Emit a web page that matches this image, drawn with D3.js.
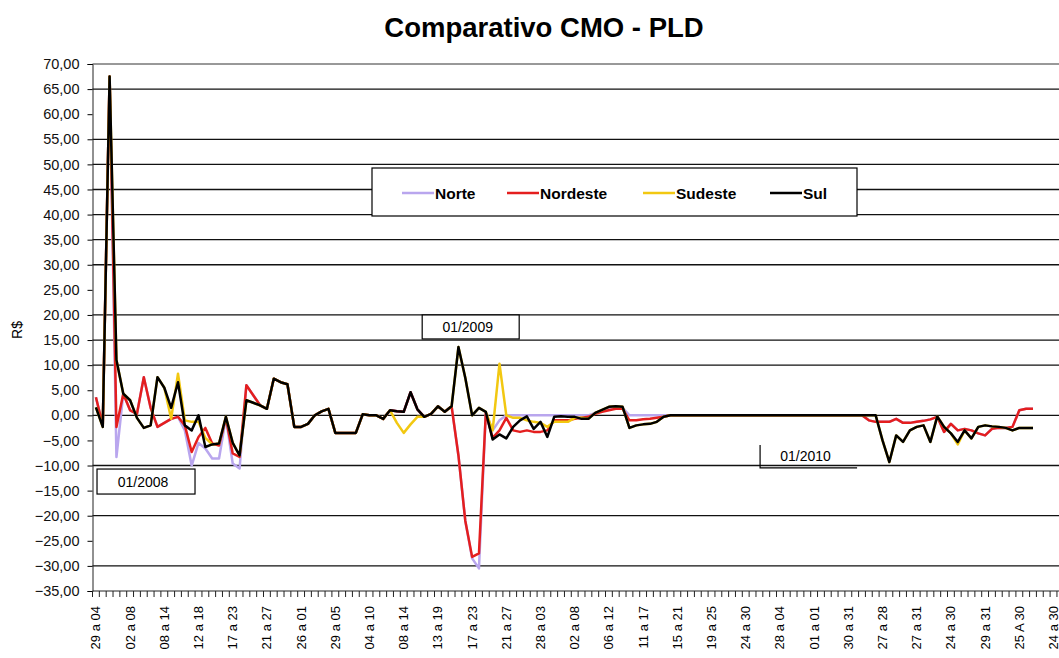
<!DOCTYPE html>
<html>
<head>
<meta charset="utf-8">
<script src="https://cdn.jsdelivr.net/npm/d3@7"></script>
<style>
  body { margin: 0; background: #fff; }
  text { font-family: Arial, "Liberation Sans", sans-serif; }
</style>
</head>
<body>
<div class="container"></div>
<script>
// week labels shown under the axis (one every 5 weeks)
var weekLabels = ["29 a 04","02 a 08","08 a 14","12 a 18","17 a 23","21 a 27","26 a 01","29 a 05","04 a 10",
  "08 a 14","13 a 19","17 a 23","21 a 27","28 a 03","02 a 08","06 a 12","11 a 17","15 a 21","19 a 25",
  "24 a 30","28 a 04","01 a 01","30 a 31","27 a 28","27 a 31","24 a 30","29 a 31","25 A 30","24 a 30"];
var nWeeks = 142;

// R$ differences CMO - PLD, weekly
var sul = [1.6,-2.3,67.5,11,4.3,3,-0.5,-2.5,-2,7.6,
  5.5,1.5,6.6,-2,-3,0,-6.3,-5.8,-5.6,-0.3,
  -5.5,-8,3,2.5,2,1.3,7.3,6.6,6.2,-2.3,
  -2.3,-1.7,0,0.8,1.3,-3.5,-3.5,-3.5,-3.5,0.2,
  0,0,-0.7,1,0.8,0.7,4.6,1.2,-0.3,0.3,
  1.8,0.7,1.8,13.6,7.5,0,1.5,0.7,-4.8,-3.8,
  -4.6,-2.3,-1,-0.2,-2.7,-1.3,-4.3,-0.3,-0.2,-0.3,
  -0.3,-0.7,-0.7,0.5,1.1,1.7,1.8,1.7,-2.5,-2,
  -1.8,-1.7,-1.3,-0.3,0,0,0,0,0,0,
  0,0,0,0,0,0,0,0,0,0,
  0,0,0,0,0,0,0,0,0,0,
  0,0,0,0,0,-5,-9.3,-4,-5.3,-3,
  -2.3,-2,-5.3,-0.2,-2.3,-3.6,-5.3,-3,-4.6,-2.3,
  -2,-2.2,-2.3,-2.5,-3,-2.5,-2.5,-2.5];

var nordeste = [3.6,-2,67.5,-2.3,4.3,1,0.3,7.6,1.5,-2.3,
  -1.5,-0.7,-0.3,-2,-7.3,-4.3,-2.5,-5.6,-6,-0.5,
  -7.6,-8.3,6,4,2,1.3,7.3,6.6,6.2,-2.3,
  -2.3,-1.7,0,0.8,1.3,-3.5,-3.5,-3.5,-3.5,0.2,
  0,0,-0.7,1,0.8,0.7,4.6,1.2,-0.3,0.3,
  1.8,0.7,1.8,-8,-21,-28.2,-27.5,0.5,-4.5,-3,
  -0.5,-3,-3.3,-3,-3.3,-3.3,-3,-1,-1,-1,
  -0.7,-0.5,-0.3,0.3,0.7,1,1.3,1.3,-1,-1,
  -0.8,-0.7,-0.5,-0.3,0,0,0,0,0,0,
  0,0,0,0,0,0,0,0,0,0,
  0,0,0,0,0,0,0,0,0,0,
  0,0,0,-1,-1.3,-1.3,-1.3,-0.7,-1.5,-1.5,
  -1.3,-1.1,-0.8,-0.3,-3.3,-1.7,-3,-2.7,-3,-3.6,
  -4,-2.7,-2.5,-2.5,-2.3,1,1.3,1.3];

var norte = [3.6,-2,67.5,-8.3,4.3,1,0.3,7.6,1.5,-2.3,
  -1.5,-0.7,-0.3,-3,-10,-5.5,-6.6,-8.6,-8.6,-0.5,
  -9.6,-10.6,6,4,2,1.3,7.3,6.6,6.2,-2.3,
  -2.3,-1.7,0,0.8,1.3,-3.5,-3.5,-3.5,-3.5,0.2,
  0,0,-0.7,1,0.8,0.7,4.6,1.2,-0.3,0.3,
  1.8,0.7,1.8,-8,-21,-28.5,-30.5,0.5,-3,-1,
  0,0,0,0,0,0,0,0,0,0,
  0,0,0,0.5,1,1.3,1.5,1.5,0,0,
  0,0,0,0,0,0,0,0,0,0,
  0,0,0,0,0,0,0,0,0,0,
  0,0,0,0,0,0,0,0,0,0,
  0,0,0,-1,-1.3,-1.3,-1.3,-0.7,-1.5,-1.5,
  -1.3,-1.1,-0.8,-0.3,-3.3,-1.7,-3,-2.7,-3,-3.6,
  -4,-2.7,-2.5,-2.5,-2.3,1,1.3,1.3];

var sudeste = [1.6,-2.3,67.5,11,4.3,3,-0.5,-2.5,-2,7.6,
  5.5,-0.7,8.3,-1,-1.3,-1.3,-4.5,-5.8,-5.6,-0.3,
  -5.5,-8,3,2.5,2,1.3,7.3,6.6,6.2,-2.3,
  -2.3,-1.7,0,0.8,1.3,-3.5,-3.5,-3.5,-3.5,0.2,
  0,0,-0.7,1,-1.5,-3.5,-1.8,-0.3,-0.3,0.3,
  1.8,0.7,1.8,13.6,7.5,0,1.5,0.7,-3,10.3,
  0,-0.5,-0.5,-1,-1.3,-1.5,-2.3,-1.3,-1.3,-1.3,
  -0.5,-0.5,-0.7,0.5,1.1,1.7,1.8,1.7,-2.5,-2,
  -1.8,-1.7,-1.3,-0.3,0,0,0,0,0,0,
  0,0,0,0,0,0,0,0,0,0,
  0,0,0,0,0,0,0,0,0,0,
  0,0,0,0,0,-5,-9.3,-4,-5.3,-3,
  -2.3,-2,-5.3,-0.2,-2.3,-3.6,-5.8,-3,-4.6,-2.3,
  -2,-2.2,-2.3,-2.5,-3,-2.5,-2.5,-2.5];

var seriesNames = ["Norte","Nordeste","Sudeste","Sul"];
var seriesColors = ["#b9a6ee","#e41e1e","#f2c811","#000000"];
var seriesValues = [norte, nordeste, sudeste, sul];

// y ticks every 5, but only some grid lines show in the original
var yTicks = d3.range(-35, 71, 5);
var gridValues = [65,55,50,45,40,35,30,20,15,10,0,-10,-20,-30];

// boxed year markers: left week, top value, size
var markers = [
  {label: "01/2008", week: 0.16, top: -10.7, w: 98, h: 25, box: "full"},
  {label: "01/2009", week: 47.7, top: 20, w: 97, h: 24, box: "full"},
  {label: "01/2010", week: 97.1, top: -5.9, w: 97, h: 23, box: "open"}
];

var w = 1059, h = 658;
var plotLeft = 92.5, plotTop = 64, plotBottom = 591;
var step = 6.84;

var svg = d3.select(".container").append("svg").attr("width", w).attr("height", h);

var x = d3.scaleBand().domain(d3.range(nWeeks)).range([plotLeft, plotLeft + nWeeks * step]).padding(0);
var xc = function(i){ return x(0) + x.bandwidth() / 2 + i * x.step(); };
var y = d3.scaleLinear().domain([-35, 70]).range([plotBottom, plotTop]);

var loc = d3.formatLocale({decimal: ",", thousands: ".", grouping: [3], currency: ["R$", ""]});
var fmt = loc.format(".2f");

// title
svg.append("text").attr("x", 544).attr("y", 37).attr("text-anchor", "middle")
  .style("font-size", "27.5px").style("font-weight", "bold").text("Comparativo CMO - PLD");

// grid
svg.append("g").selectAll("line").data(gridValues).enter().append("line")
  .attr("x1", plotLeft).attr("x2", w).attr("y1", function(d){ return y(d); }).attr("y2", function(d){ return y(d); })
  .attr("stroke", "#111").attr("stroke-width", 1.3);
svg.append("line").attr("x1", plotLeft).attr("x2", w).attr("y1", plotTop).attr("y2", plotTop)
  .attr("stroke", "#333").attr("stroke-width", 1);

// y axis
var yAxis = svg.append("g").attr("transform", "translate(" + plotLeft + ",0)")
  .call(d3.axisLeft(y).tickValues(yTicks).tickFormat(fmt).tickSize(5).tickPadding(8));
yAxis.select(".domain").attr("stroke", "#222");
yAxis.selectAll("text").style("font-size", "14.5px").style("font-family", "Arial, 'Liberation Sans', sans-serif").attr("fill", "#111");

svg.append("text").attr("transform", "translate(22,330) rotate(-90)").attr("text-anchor", "middle")
  .style("font-size", "14px").text("R$");

// x axis
svg.append("line").attr("x1", plotLeft).attr("x2", w).attr("y1", plotBottom).attr("y2", plotBottom).attr("stroke", "#222");
svg.append("g").selectAll("line").data(d3.range(nWeeks + 1)).enter().append("line")
  .attr("x1", function(d){ return plotLeft + d * x.step(); }).attr("x2", function(d){ return plotLeft + d * x.step(); })
  .attr("y1", plotBottom).attr("y2", plotBottom + 6).attr("stroke", "#222");
svg.append("g").selectAll("text").data(weekLabels).enter().append("text")
  .attr("transform", function(d, i){ return "translate(" + (xc(i * 5) + 4.5) + "," + (plotBottom + 15) + ") rotate(-90)"; })
  .attr("text-anchor", "end").style("font-size", "13px").text(function(d){ return d; });

// lines
var line = d3.line().x(function(d, i){ return xc(i); }).y(function(d){ return y(d); });
svg.append("g").selectAll("path").data(seriesValues).enter().append("path")
  .attr("d", function(d){ return line(d); })
  .attr("fill", "none").attr("stroke", function(d, i){ return seriesColors[i]; })
  .attr("stroke-width", 2.5).attr("stroke-linejoin", "round");

// year markers
markers.forEach(function(m){
  var mx = xc(m.week), my = y(m.top);
  var g = svg.append("g");
  if (m.box == "full") {
    g.append("rect").attr("x", mx).attr("y", my).attr("width", m.w).attr("height", m.h)
      .attr("fill", "#fff").attr("stroke", "#000").attr("stroke-width", 1.2);
  } else {
    g.append("path").attr("d", "M" + mx + "," + my + "V" + (my + m.h) + "H" + (mx + m.w))
      .attr("fill", "none").attr("stroke", "#000").attr("stroke-width", 1.2);
  }
  g.append("text").attr("x", mx + m.w / 2 - 3).attr("y", my + m.h / 2 + 5).attr("text-anchor", "middle")
    .style("font-size", "14px").text(m.label);
});

// legend
var lg = svg.append("g").attr("transform", "translate(372,168)");
lg.append("rect").attr("width", 485).attr("height", 48).attr("fill", "#fff").attr("stroke", "#000").attr("stroke-width", 1.2);
var legX = [30, 135, 271, 398];
seriesNames.forEach(function(n, i){
  lg.append("line").attr("x1", legX[i]).attr("x2", legX[i] + 32).attr("y1", 25).attr("y2", 25)
    .attr("stroke", seriesColors[i]).attr("stroke-width", 2.5);
  lg.append("text").attr("x", legX[i] + 33).attr("y", 30.5).style("font-size", "15.5px").style("font-weight", "bold").text(n);
});
</script>
</body>
</html>
